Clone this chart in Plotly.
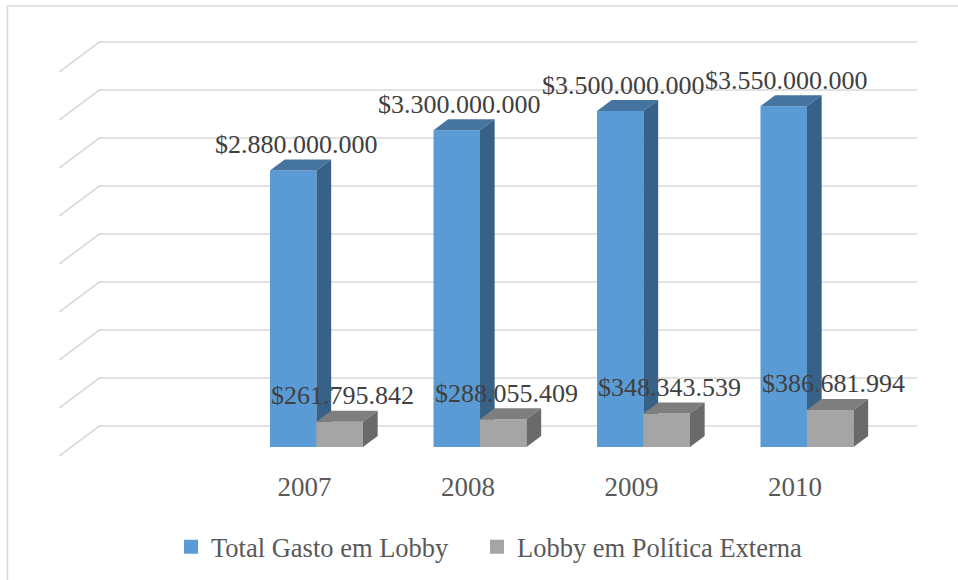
import plotly.graph_objects as go

# ---- data -------------------------------------------------------------
years = ["2007", "2008", "2009", "2010"]
total_lobby = [2880000000, 3300000000, 3500000000, 3550000000]
foreign_policy_lobby = [261795842, 288055409, 348343539, 386681994]
series_names = ["Total Gasto em Lobby", "Lobby em Política Externa"]
value_ticks = [0, 500000000, 1000000000, 1500000000, 2000000000,
               2500000000, 3000000000, 3500000000, 4000000000]

# ---- pseudo-3D projection setup ---------------------------------------
W, H = 958, 580
CAT_PX = 163.5            # pixels per category on the front plane
ORIGIN_X_PX = 304.5       # pixel of category 0 on the front plane
ORIGIN_Y_PX = 456.0       # pixel of value 0 on the front plane
VAL_PX = 96.0 / 1e9       # pixels per unit of value
DEPTH_DX_PX, DEPTH_DY_PX = 40.0, 30.0   # full floor depth offset

x_range = [-ORIGIN_X_PX / CAT_PX, (W - ORIGIN_X_PX) / CAT_PX]
y_range = [(ORIGIN_Y_PX - H) / VAL_PX, ORIGIN_Y_PX / VAL_PX]


def ddx(d):
    return d * DEPTH_DX_PX / CAT_PX


def ddy(d):
    return d * DEPTH_DY_PX / VAL_PX


WALL_LEFT, WALL_RIGHT = -1.5, 3.5
BAR_W = 46.5 / CAT_PX
BAR_FRONT = 0.3
BAR_DEPTH = 11.0 / DEPTH_DY_PX

BLUE = ("#5B9BD5", "#4674A1", "#386187")
GREY = ("#A5A5A5", "#7E7E7E", "#6A6A6A")
GRID = "#D9D9D9"
SERIF = "'Times New Roman', 'Liberation Serif', serif"

fig = go.Figure()

# back wall + side wall gridlines
gx, gy = [], []
for v in value_ticks:
    gx += [WALL_LEFT, WALL_LEFT + ddx(1), WALL_RIGHT + ddx(1), None]
    gy += [v, v + ddy(1), v + ddy(1), None]
fig.add_trace(go.Scatter(x=gx, y=gy, mode="lines", line=dict(color=GRID, width=1.6),
                         hoverinfo="skip", showlegend=False))


def box_faces(values, side):
    """Front, top and side polygons of one series' bars."""
    front = ([], [])
    top = ([], [])
    right = ([], [])
    for i, v in enumerate(values):
        xc = i + ddx(BAR_FRONT)
        xl, xr = (xc - BAR_W, xc) if side == 0 else (xc, xc + BAR_W)
        y0 = ddy(BAR_FRONT)
        y1 = v + y0
        bx, by = ddx(BAR_DEPTH), ddy(BAR_DEPTH)
        front[0].extend([xl, xr, xr, xl, xl, None])
        front[1].extend([y0, y0, y1, y1, y0, None])
        top[0].extend([xl, xr, xr + bx, xl + bx, xl, None])
        top[1].extend([y1, y1, y1 + by, y1 + by, y1, None])
        right[0].extend([xr, xr + bx, xr + bx, xr, xr, None])
        right[1].extend([y0, y0 + by, y1 + by, y1, y0, None])
    return front, top, right


annotations = []
for s, (values, colors) in enumerate([(total_lobby, BLUE), (foreign_policy_lobby, GREY)]):
    for face, col in zip(box_faces(values, s), colors):
        fig.add_trace(go.Scatter(x=face[0], y=face[1], mode="lines", fill="toself",
                                 fillcolor=col, line=dict(width=0, color=col),
                                 hoverinfo="skip", showlegend=False))
    for i, v in enumerate(values):
        xc = i + ddx(BAR_FRONT)
        xm = xc - BAR_W / 2 if s == 0 else xc + BAR_W / 2
        label = "$" + f"{v:,}".replace(",", ".")
        annotations.append(dict(x=xm, y=v + ddy(BAR_FRONT), xref="x", yref="y",
                                text=label, showarrow=False, xshift=3, yshift=26,
                                yanchor="middle",
                                font=dict(family=SERIF, size=26, color="#404040")))

# legend entries, one legend box per series
legend_names = ["legend", "legend2"]
for name, col, lg in zip(series_names, (BLUE[0], GREY[0]), legend_names):
    fig.add_trace(go.Scatter(x=[None], y=[None], mode="markers", name=name, legend=lg,
                             marker=dict(symbol="square", size=14, color=col)))

legend_style = dict(orientation="h", xanchor="left", y=1 - 547 / H, yanchor="middle",
                    font=dict(family=SERIF, size=26.5, color="#595959"),
                    bgcolor="rgba(0,0,0,0)")

fig.update_layout(
    width=W, height=H,
    margin=dict(l=0, r=0, t=0, b=0),
    paper_bgcolor="white", plot_bgcolor="white",
    xaxis=dict(range=x_range, domain=[0, 1], anchor="free", position=1 - 468 / H,
               tickvals=list(range(len(years))), ticktext=years,
               showgrid=False, zeroline=False, showline=False, ticks="",
               tickfont=dict(family=SERIF, size=27, color="#595959"), fixedrange=True),
    yaxis=dict(range=y_range, domain=[0, 1], visible=False, fixedrange=True),
    legend=dict(x=171 / W, **legend_style),
    legend2=dict(x=477 / W, **legend_style),
    annotations=annotations,
    shapes=[dict(type="rect", xref="paper", yref="paper",
                 x0=7.5 / W, x1=1.05, y0=-0.05, y1=1 - 6 / H,
                 line=dict(color=GRID, width=1.6), layer="below")],
    showlegend=True,
)

fig.write_html("out.html")
